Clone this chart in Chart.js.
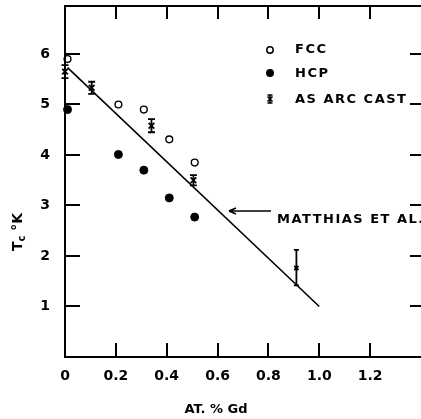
<!DOCTYPE html>
<html>
<head>
<meta charset="utf-8">
<script src="https://cdn.jsdelivr.net/npm/chart.js@4.4.1/dist/chart.umd.min.js"></script>
<style>
  html, body { margin: 0; padding: 0; background: #fff; overflow: hidden; }
</style>
</head>
<body>
<canvas id="tcChart" width="421" height="419"></canvas>
<script>
// values
const fccX = [0.01, 0.21, 0.31, 0.41, 0.51];
const fccY = [5.9, 5.0, 4.9, 4.31, 3.85];
const hcpX = [0.01, 0.21, 0.31, 0.41, 0.51];
const hcpY = [4.9, 4.01, 3.7, 3.15, 2.77];
const arcX = [0.0, 0.105, 0.34, 0.505, 0.91];
const arcY = [5.65, 5.33, 4.58, 3.5, 1.76];
const arcHi = [5.78, 5.45, 4.71, 3.6, 2.12];
const arcLo = [5.52, 5.21, 4.45, 3.4, 1.42];
const matthiasX = [0.01, 1.0];
const matthiasY = [5.73, 1.0];

const xTickVals = [0, 0.2, 0.4, 0.6, 0.8, 1.0, 1.2];
const xTickLabels = ['0', '0.2', '0.4', '0.6', '0.8', '1.0', '1.2'];
const yTickVals = [1, 2, 3, 4, 5, 6];
const yTickLabels = ['1', '2', '3', '4', '5', '6'];

const FONT = '"DejaVu Sans", "Liberation Sans", sans-serif';

const toPts = (xs, ys) => xs.map((x, i) => ({ x: x, y: ys[i] }));

function drawArcMark(ctx, x, y, r) {
    ctx.beginPath();
    ctx.moveTo(x - r, y - r); ctx.lineTo(x + r, y + r);
    ctx.moveTo(x + r, y - r); ctx.lineTo(x - r, y + r);
    ctx.stroke();
}

// chart.js reserves room for edge labels, we want the frame fixed
function noScalePadding(s) {
    s.paddingLeft = 0;
    s.paddingRight = 0;
    s.paddingTop = 0;
    s.paddingBottom = 0;
}

const framePlugin = {
    id: 'frame',
    afterDraw(chart) {
        const ctx = chart.ctx;
        const xs = chart.scales.x, ys = chart.scales.y;
        const { left, right, top, bottom } = chart.chartArea;
        ctx.save();
        ctx.strokeStyle = '#000';
        ctx.fillStyle = '#000';
        ctx.lineWidth = 2;
        ctx.lineCap = 'butt';

        // spines (no right spine visible, it falls off the picture)
        ctx.beginPath();
        ctx.moveTo(left, top); ctx.lineTo(right, top);
        ctx.moveTo(left, top - 1); ctx.lineTo(left, bottom + 1);
        ctx.moveTo(left - 1, bottom); ctx.lineTo(right, bottom);
        ctx.stroke();

        // inward ticks
        ctx.beginPath();
        xTickVals.slice(1).forEach(v => {
            const px = Math.round(xs.getPixelForValue(v));
            ctx.moveTo(px, bottom); ctx.lineTo(px, bottom - 14);
            ctx.moveTo(px, top); ctx.lineTo(px, top + 13);
        });
        yTickVals.forEach(v => {
            const py = Math.round(ys.getPixelForValue(v));
            ctx.moveTo(left, py); ctx.lineTo(left + 15, py);
            ctx.moveTo(right - 11, py); ctx.lineTo(right, py);
        });
        ctx.stroke();

        // error bars for the arc cast samples
        ctx.lineWidth = 1.8;
        arcX.forEach((v, i) => {
            const px = xs.getPixelForValue(v);
            const ph = ys.getPixelForValue(arcHi[i]);
            const pl = ys.getPixelForValue(arcLo[i]);
            const cap = i === arcX.length - 1 ? 2.5 : 3.5;
            ctx.beginPath();
            ctx.moveTo(px, ph); ctx.lineTo(px, pl);
            ctx.moveTo(px - cap, ph); ctx.lineTo(px + cap, ph);
            ctx.moveTo(px - cap, pl); ctx.lineTo(px + cap, pl);
            ctx.stroke();
        });

        // legend
        const lx = 270;
        ctx.lineWidth = 1.5;
        ctx.beginPath(); ctx.arc(lx, 50, 3.2, 0, Math.PI * 2); ctx.stroke();
        ctx.beginPath(); ctx.arc(lx, 73, 4, 0, Math.PI * 2); ctx.fill();
        ctx.lineWidth = 1.6;
        ctx.beginPath();
        ctx.moveTo(lx, 95); ctx.lineTo(lx, 103);
        ctx.moveTo(lx - 2.5, 95); ctx.lineTo(lx + 2.5, 95);
        ctx.moveTo(lx - 2.5, 103); ctx.lineTo(lx + 2.5, 103);
        ctx.stroke();
        drawArcMark(ctx, lx, 99, 2.5);

        ctx.font = 'bold 13px ' + FONT;
        ctx.letterSpacing = '1.5px';
        ctx.textBaseline = 'middle';
        ctx.textAlign = 'left';
        ctx.fillText('FCC', 295, 50);
        ctx.fillText('HCP', 295, 74);
        ctx.fillText('AS ARC CAST', 295, 100);

        // annotation for the Matthias et al. line
        ctx.fillText('MATTHIAS ET AL.', 277, 220);
        ctx.lineWidth = 1.5;
        ctx.beginPath();
        ctx.moveTo(229, 211); ctx.lineTo(271, 211);
        ctx.moveTo(229, 211); ctx.lineTo(236, 208);
        ctx.moveTo(229, 211); ctx.lineTo(236, 214);
        ctx.stroke();

        // axis titles
        ctx.letterSpacing = '0px';
        ctx.textAlign = 'center';
        ctx.fillText('AT. % Gd', 216, 410);

        ctx.translate(22, 251);
        ctx.rotate(-Math.PI / 2);
        ctx.textAlign = 'left';
        ctx.textBaseline = 'alphabetic';
        ctx.font = 'bold 14px ' + FONT;
        ctx.fillText('T', 0, 0);
        const tw = ctx.measureText('T').width;
        ctx.font = 'bold 10px ' + FONT;
        ctx.fillText('c', tw, 3);
        const cw = ctx.measureText('c').width;
        ctx.font = 'bold 14px ' + FONT;
        ctx.fillText(' \u00B0K', tw + cw, 0);
        ctx.restore();
    }
};

new Chart(document.getElementById('tcChart').getContext('2d'), {
    type: 'scatter',
    data: {
        datasets: [
            {
                label: 'Matthias et al.',
                type: 'line',
                data: toPts(matthiasX, matthiasY),
                borderColor: '#000',
                borderWidth: 1.6,
                pointRadius: 0,
                fill: false,
                clip: false
            },
            {
                label: 'FCC',
                data: toPts(fccX, fccY),
                pointStyle: 'circle',
                pointRadius: 3.4,
                borderColor: '#000',
                backgroundColor: '#fff',
                borderWidth: 1.4,
                clip: false
            },
            {
                label: 'HCP',
                data: toPts(hcpX, hcpY),
                pointStyle: 'circle',
                pointRadius: 4,
                borderColor: '#000',
                backgroundColor: '#000',
                borderWidth: 1,
                clip: false
            },
            {
                label: 'As arc cast',
                data: toPts(arcX, arcY),
                pointStyle: 'crossRot',
                pointRadius: [4, 4, 4, 4, 3],
                borderColor: '#000',
                borderWidth: 1.8,
                clip: false
            }
        ]
    },
    options: {
        responsive: false,
        animation: false,
        events: [],
        layout: { autoPadding: false, padding: { top: 6, right: 0, left: 0, bottom: 0 } },
        plugins: {
            legend: { display: false },
            tooltip: { enabled: false }
        },
        scales: {
            x: {
                type: 'linear',
                min: 0,
                max: 1.4,
                grid: { display: false, drawTicks: false },
                border: { display: false },
                afterBuildTicks: s => { s.ticks = xTickVals.map(v => ({ value: v })); },
                afterFit: s => { s.height = 62; noScalePadding(s); },
                ticks: {
                    padding: 11,
                    color: '#000',
                    font: { family: FONT, size: 14, weight: 'bold' },
                    callback: (v, i) => xTickLabels[i]
                }
            },
            y: {
                type: 'linear',
                min: 0,
                max: 6.95,
                grid: { display: false, drawTicks: false },
                border: { display: false },
                afterBuildTicks: s => { s.ticks = yTickVals.map(v => ({ value: v })); },
                afterFit: s => { s.width = 65; noScalePadding(s); },
                ticks: {
                    padding: 15,
                    color: '#000',
                    font: { family: FONT, size: 14, weight: 'bold' },
                    callback: (v, i) => yTickLabels[i]
                }
            }
        }
    },
    plugins: [framePlugin]
});
</script>
</body>
</html>
